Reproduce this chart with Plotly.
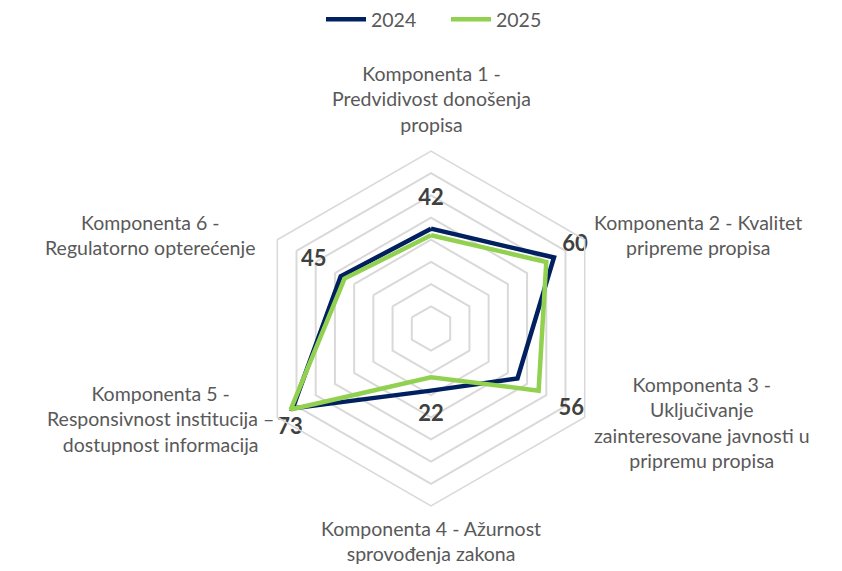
import math
import plotly.graph_objects as go

categories = [
    "Komponenta 1 -<br>Predvidivost donošenja<br>propisa",
    "Komponenta 2 - Kvalitet<br>pripreme propisa",
    "Komponenta 3 -<br>Uključivanje<br>zainteresovane javnosti u<br>pripremu propisa",
    "Komponenta 4 - Ažurnost<br>sprovođenja zakona",
    "Komponenta 5 -<br>Responsivnost institucija –<br>dostupnost informacija",
    "Komponenta 6 -<br>Regulatorno opterećenje",
]
values_2024 = [45, 64, 45, 28, 72, 47]
values_2025 = [42, 60, 56, 22, 73, 45]
series_names = ["2024", "2025"]

# styling
NAVY = "#002060"
GREEN = "#92D050"
GRID = "#D9D9D9"
TEXT = "#595959"
LABEL = "#404040"
FONT = "Lato"
R_MAX = 80
label_pad = [16, 15, 17, 17, 7, 16]
label_pos = ["middle center", "middle center", "middle center",
             "middle center", "bottom right", "middle center"]


def closed(v):
    return list(v) + [v[0]]


theta = closed(categories)

fig = go.Figure()
fig.add_trace(go.Scatterpolar(
    r=closed(values_2024), theta=theta, mode="lines", name=series_names[0],
    line=dict(color=NAVY, width=4.5),
))
fig.add_trace(go.Scatterpolar(
    r=closed(values_2025), theta=theta, mode="lines", name=series_names[1],
    line=dict(color=GREEN, width=4.5),
))
fig.add_trace(go.Scatterpolar(
    r=[min(v + p, R_MAX) for v, p in zip(values_2025, label_pad)], theta=categories,
    mode="text", text=[str(v) for v in values_2025], textposition=label_pos,
    textfont=dict(family=FONT, size=22, color=LABEL, weight="bold"),
    showlegend=False, hoverinfo="skip", cliponaxis=False,
))

W, H = 842, 571
cx, cy, R = 431, 328.5, 177.5

# category labels placed around the polygon, derived from its geometry
cat_style = [
    # (x offset, y offset, xanchor, yanchor)  relative to the outer vertex
    (0, -13, "center", "bottom"),
    (7, -5, "left", "middle"),
    (7, 5, "left", "middle"),
    (0, 9, "center", "top"),
    (-1, 2, "right", "middle"),
    (-20, -5, "right", "middle"),
]
annotations = []
n = len(categories)
for i, (cat, (ox, oy, xa, ya)) in enumerate(zip(categories, cat_style)):
    ang = math.radians(90 - 360 * i / n)
    vx = cx + R * math.cos(ang)
    vy = cy - R * math.sin(ang)
    annotations.append(dict(
        text=cat, x=(vx + ox) / W, y=1 - (vy + oy) / H,
        xref="paper", yref="paper", xanchor=xa, yanchor=ya,
        align="center", showarrow=False,
        font=dict(family=FONT, size=19.5, color=TEXT),
    ))

fig.update_layout(
    width=W, height=H,
    margin=dict(l=0, r=0, t=0, b=0),
    paper_bgcolor="white",
    font=dict(family=FONT, color=TEXT, size=19.5),
    showlegend=True,
    legend=dict(orientation="h", x=0.5 + 25 / W, xanchor="center", y=1.0, yanchor="top",
                font=dict(size=19.5, color=TEXT), itemwidth=40, entrywidth=70),
    annotations=annotations,
    polar=dict(
        domain=dict(x=[(cx - R) / W, (cx + R) / W],
                    y=[(H - cy - R) / H, (H - cy + R) / H]),
        bgcolor="white",
        gridshape="linear",
        radialaxis=dict(range=[0, R_MAX], dtick=10, showticklabels=False,
                        showline=False, ticks="", gridcolor=GRID, gridwidth=1.5),
        angularaxis=dict(rotation=90, direction="clockwise", showgrid=False,
                         showticklabels=False,
                         showline=True, linecolor=GRID, linewidth=1.5, ticks=""),
    ),
)

fig.write_html("out.html", config={"displayModeBar": False},
               post_script="document.body.style.margin='0';")
